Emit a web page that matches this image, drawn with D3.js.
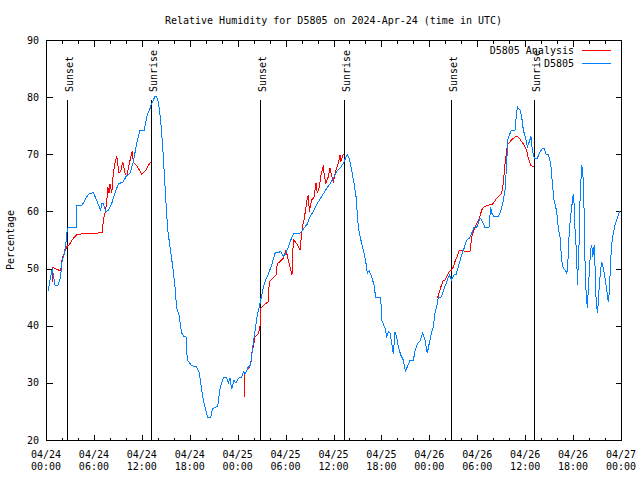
<!DOCTYPE html>
<html><head><meta charset="utf-8">
<script src="https://cdn.jsdelivr.net/npm/d3@7"></script>
<style>
body{margin:0;background:#fff;}
svg{display:block;background:#fff;}
text{font-family:"DejaVu Sans Mono",monospace;font-size:10px;fill:#000;}
</style></head><body>
<svg id="chart" width="640" height="480"></svg>
<script>
const chartTitle = "Relative Humidity for D5805 on 2024-Apr-24 (time in UTC)";
const yAxisLabel = "Percentage";
const startDate = "2024-04-24T00:00:00Z";
const endDate = "2024-04-27T00:00:00Z";
const yTicks = [20,30,40,50,60,70,80,90];
const seriesNames = ["D5805 Analysis","D5805"];
const seriesColors = ["#ff0000","#0080ff"];
const sunEvents = ["Sunset","Sunrise","Sunset","Sunrise","Sunset","Sunrise"];
const sunHours = [2.67,13.19,26.76,37.28,50.76,61.15];
const sunLineTop = 79.7;

// observations (hours since start, %)
const obsHours = [0.29,0.50,0.79,1.13,1.50,1.84,1.97,2.25,2.50,2.67,
 2.79,3.76,3.84,4.47,5.30,5.92,6.14,6.67,6.85,6.97,
 7.18,7.48,7.80,8.23,8.64,9.05,9.68,10.02,10.52,10.93,
 11.36,11.77,12.31,12.61,13.02,13.23,13.65,13.86,14.06,14.36,
 14.69,15.03,15.24,15.53,15.87,16.15,16.37,16.65,16.99,17.28,
 17.53,17.69,18.24,18.87,19.20,19.50,19.70,20.00,20.25,20.62,
 20.87,21.50,21.79,22.20,22.63,22.83,23.04,23.25,23.54,23.79,
 24.08,24.51,24.71,24.92,25.33,25.63,25.88,26.08,26.30,26.51,
 26.80,27.14,27.42,27.84,28.26,28.68,29.39,29.71,30.05,30.34,
 30.68,30.97,31.81,32.22,32.72,33.06,33.47,33.97,34.52,35.15,
 35.56,35.98,36.40,36.94,37.23,37.73,37.98,38.28,38.57,38.82,
 39.03,39.23,39.53,39.82,40.07,40.23,40.48,40.78,41.07,41.28,
 41.91,42.04,42.45,42.66,42.91,43.08,43.36,43.49,43.70,43.91,
 44.11,44.42,44.74,44.99,45.24,45.58,45.99,46.21,46.49,46.83,
 47.17,47.46,47.74,47.99,48.30,48.50,48.71,48.92,49.12,49.42,
 49.67,49.87,50.18,50.50,50.80,51.09,51.34,51.75,52.05,52.34,
 52.68,53.01,53.31,53.59,53.93,54.35,54.56,54.97,55.47,55.68,
 55.81,56.10,56.64,56.94,57.19,57.48,57.69,57.81,58.02,58.31,
 58.73,58.94,59.07,59.35,59.56,59.77,60.11,60.27,60.52,60.73,
 60.90,61.15,61.52,61.77,62.15,62.36,62.62,62.90,63.20,63.45,
 63.61,63.95,64.15,64.36,64.57,64.78,65.07,65.20,65.33,65.53,
 65.74,65.83,66.03,66.16,66.24,66.46,66.53,66.66,66.79,66.87,
 67.00,67.08,67.16,67.28,67.37,67.49,67.62,67.78,67.91,68.03,
 68.21,68.34,68.46,68.66,68.75,68.87,69.04,69.16,69.29,69.46,
 69.58,69.79,70.00,70.21,70.41,70.54,70.71,70.84,71.04,71.25,
 71.46,71.66,71.87];
const obsValues = [46.1,48,50,47.1,47.1,48.6,51,52.4,54.5,57,
 57.2,57.2,61,61,63,63.3,62.6,60.8,60.2,61.4,
 61.4,60,60.2,61.4,63.2,64.8,65.2,66.1,66.7,68.7,
 71.9,74.2,74.2,76.6,78,78.9,80.1,80.1,79.2,76,
 69.6,61.4,56.75,53.8,50.3,46.8,43,41.9,38.7,38.1,
 38.1,34,33,32.8,31.7,28.75,27,25.25,24,24,
 25.5,25.95,29,30.9,30.9,30,30.8,29,30.4,30,
 30.8,31,32,31.5,32.8,33.1,36.3,38.1,40.4,42.2,
 43.9,46.25,47.7,49.05,50.6,52.7,52.95,52.1,52.7,53.8,
 55.1,56.05,56.2,56.9,57.8,59.1,60,61.4,62.6,64.05,
 64.8,65.8,67,67.8,68.4,70,69.3,67.25,64.9,62.6,
 58.5,56.2,54.4,52.7,50.9,49.2,49.6,48.6,47.1,45,
 45,41,39.55,38.1,39,38.7,36.3,35.05,38.95,38.1,
 36.3,34.9,34,32.1,32.8,33.9,33.9,35.6,36.8,37.3,
 38.7,37.5,35.2,36.9,38.95,39.8,42.2,43.3,44.9,44.9,
 45.7,46.55,47.7,48.9,48,48.9,48.9,50.9,52.4,53.5,
 55,55.3,56.2,57.2,57.2,58.8,58.5,57.2,57.2,60.8,
 59.7,59.1,59.1,60,61.4,63.75,68.4,72.5,73.4,74.25,
 74.25,77.45,78.2,77.75,76.6,74.25,72.5,71.3,72.2,73.1,
 70.75,69.3,69.3,70.2,71.05,71.05,70.05,69.9,68.4,64.3,
 62,60,57,55.6,51.5,50,49.6,49.05,50.5,56.75,
 59.7,60.8,63.05,60.8,57,52.1,47.1,51,56,62,
 65.8,68.1,67.25,65.5,60.5,51.5,46.25,43.05,46.5,49.45,
 53.5,54.1,52.1,54.1,50.3,45.1,42.2,44,47.4,49.75,
 51.2,50,48.3,46.25,44.2,46,51.5,54.4,56.2,57.6,
 58.5,59.4,60];

// analysis (hours since start, %), null = gap
const anaHours = [0.79,0.84,1.13,1.84,2.04,2.38,2.59,2.92,3.42,3.84,
 4.88,6.35,7.05,7.18,7.39,7.60,7.73,7.89,8.01,8.23,
 8.43,8.64,8.85,9.14,9.39,9.60,9.89,10.11,10.43,10.64,
 10.81,10.93,11.36,11.98,12.52,13.02,13.15,
 19.0,
 24.83,24.92,25.33,25.63,25.76,25.96,26.17,26.55,26.71,26.80,
 26.88,27.42,27.84,27.96,28.26,28.80,28.96,29.30,29.71,30.05,
 30.34,30.64,30.80,30.97,31.39,31.81,32.02,32.22,32.31,32.56,
 32.72,32.85,32.97,33.27,33.56,33.81,33.97,34.22,34.40,34.65,
 34.72,34.85,35.06,35.35,35.56,35.78,35.98,36.31,36.60,36.82,
 36.90,37.15,37.23,
 43.0,
 48.92,49.12,49.42,49.75,49.96,50.18,50.50,50.80,51.00,51.21,
 51.50,51.75,52.05,52.47,53.09,53.31,53.72,53.93,54.26,54.56,
 54.85,55.39,55.94,56.14,56.44,56.76,57.06,57.26,57.48,57.77,
 58.10,58.51,58.94,59.27,59.56,59.86,60.19,60.39,60.69,60.90,
 61.15];
const anaValues = [47.7,50.2,50,49.6,51.8,53,53.8,54.2,55.3,55.9,
 56.2,56.2,56.3,58.5,59.7,61.4,64.3,63.2,64.8,63.2,
 66.7,68.4,69.7,66.7,67.2,68.7,66.7,66.1,68.4,69.6,
 70.6,68.6,68,66.55,67.25,68.5,68.7,
 null,
 27.5,31.7,32.5,33.1,35.2,36.3,38.1,38.5,39.25,40,
 43.05,43.8,44.2,47.7,48.1,48.9,50.9,51.2,51.8,53.25,
 51.5,49.75,48.9,55,54.4,53.25,56.2,58.2,58.5,60.8,
 62.3,62.9,60,62,62.5,64.9,63.2,64.3,66.1,67.55,
 68.1,66.1,64.9,66.1,67.55,66.1,65.2,67.25,68.4,69.9,
 68.7,69.6,70.05,
 null,
 44.8,45.2,46.7,48,48,48.6,49.45,49.75,50.3,51.2,
 52.1,53.25,53.25,52.95,52.95,55.6,57.3,57.9,58.8,60.25,
 60.8,61.1,61.3,61.7,62.3,62.7,63.2,64.9,68.4,71.6,
 72.2,72.8,73.2,72.8,72.2,71.6,70.75,69.3,68.1,67.95,
 67.95];

const t0 = new Date(startDate), t1 = new Date(endDate);
const toDate = h => new Date(t0.getTime() + h * 3600e3);

const svg = d3.select("#chart");
const margin = {left:46, right:19, top:40, bottom:40};
const W = 640, H = 480;
const x = d3.scaleUtc().domain([t0, t1]).range([margin.left, W - margin.right]);
const y = d3.scaleLinear().domain([20, 90]).range([H - margin.bottom, margin.top]);

const g = svg.append("g").attr("transform","translate(0.5,0.5)");
const crisp = sel => sel.attr("shape-rendering","crispEdges");

// title
svg.append("text").attr("x", (x.range()[0]+x.range()[1])/2).attr("y", 24)
  .attr("text-anchor","middle").text(chartTitle);

// y label
svg.append("text").attr("transform",`translate(14,${(y.range()[0]+y.range()[1])/2}) rotate(-90)`)
  .attr("text-anchor","middle").text(yAxisLabel);

// ticks
const majorTicks = d3.utcHour.every(6).range(t0, new Date(t1.getTime()+1));
const minorTicks = d3.utcHour.every(2).range(t0, new Date(t1.getTime()+1));
const [x0, x1] = x.range();
const [yb, yt] = y.range();

minorTicks.forEach(t => {
  const major = t.getUTCHours() % 6 === 0;
  const len = major ? 6 : 3;
  const xp = Math.round(x(t));
  g.append("line").attr("x1",xp).attr("x2",xp).attr("y1",yb).attr("y2",yb-len).attr("stroke","#000").call(crisp);
  g.append("line").attr("x1",xp).attr("x2",xp).attr("y1",yt).attr("y2",yt+len).attr("stroke","#000").call(crisp);
});
yTicks.forEach(v => {
  const yp = Math.round(y(v));
  g.append("line").attr("x1",x0).attr("x2",x0+6).attr("y1",yp).attr("y2",yp).attr("stroke","#000").call(crisp);
  g.append("line").attr("x1",x1).attr("x2",x1-6).attr("y1",yp).attr("y2",yp).attr("stroke","#000").call(crisp);
  svg.append("text").attr("x", x0-7).attr("y", y(v)+3.5).attr("text-anchor","end").text(v);
});
const fmtDate = d3.utcFormat("%m/%d"), fmtTime = d3.utcFormat("%H:%M");
majorTicks.forEach(t => {
  svg.append("text").attr("x", x(t)).attr("y", 457.5).attr("text-anchor","middle").text(fmtDate(t));
  svg.append("text").attr("x", x(t)).attr("y", 470).attr("text-anchor","middle").text(fmtTime(t));
});

// sunrise / sunset markers
sunHours.forEach((h, i) => {
  const xp = Math.round(x(toDate(h)));
  g.append("line").attr("x1",xp).attr("x2",xp).attr("y1",Math.round(y(20))).attr("y2",Math.round(y(sunLineTop)))
    .attr("stroke","#000").call(crisp);
  svg.append("text").attr("transform",`translate(${xp+5.5},92) rotate(-90)`)
    .attr("text-anchor","start").text(sunEvents[i]);
});

// series
const line = d3.line().defined(d => d.v != null).x(d => x(toDate(d.h))).y(d => y(d.v));
const ana = anaHours.map((h,i) => ({h, v: anaValues[i]}));
const obs = obsHours.map((h,i) => ({h, v: obsValues[i]}));
svg.append("path").datum(ana).attr("d", line).attr("fill","none").attr("stroke",seriesColors[0]).attr("stroke-width",1).call(crisp);
svg.append("path").datum(obs).attr("d", line).attr("fill","none").attr("stroke",seriesColors[1]).attr("stroke-width",1).call(crisp);

// border
g.append("rect").attr("x",x0).attr("y",yt).attr("width",x1-x0).attr("height",yb-yt)
  .attr("fill","none").attr("stroke","#000").call(crisp);

// legend
seriesNames.forEach((name, i) => {
  const ly = 49.5 + i*13;
  svg.append("text").attr("x", 574).attr("y", ly+4).attr("text-anchor","end").text(name);
  g.append("line").attr("x1",581).attr("x2",610).attr("y1",Math.round(ly)).attr("y2",Math.round(ly))
    .attr("stroke",seriesColors[i]).call(crisp);
});
</script>
</body></html>
